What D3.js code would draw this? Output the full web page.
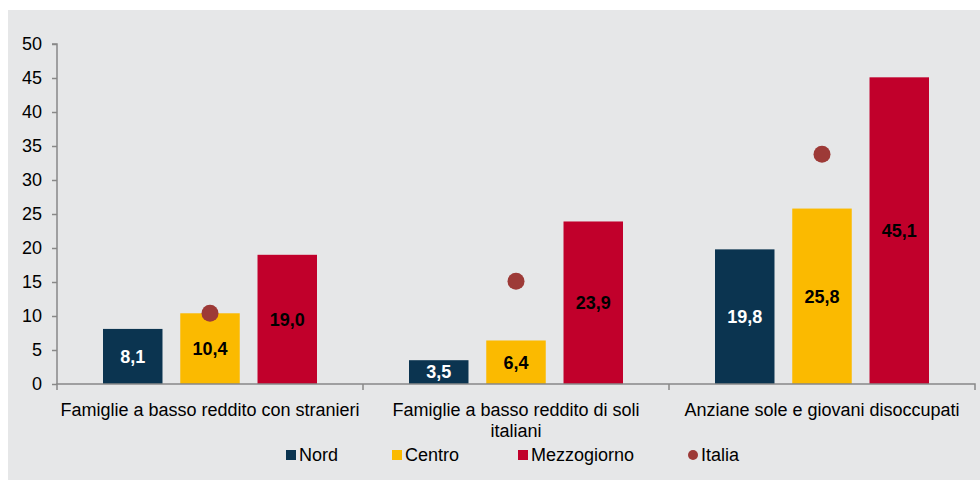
<!DOCTYPE html>
<html>
<head>
<meta charset="utf-8">
<style>
body { margin: 0; background: #fff; }
svg { display: block; font-family: "Liberation Sans", Arial, sans-serif; }
</style>
</head>
<body>
<div id="target"></div>
<script src="https://cdn.jsdelivr.net/npm/d3@7.8.5/dist/d3.min.js"></script>
<script>
// categories and series
const categories = [
    ["Famiglie a basso reddito con stranieri"],
    ["Famiglie a basso reddito di soli", "italiani"],
    ["Anziane sole e giovani disoccupati"]
];
const series = ["Nord", "Centro", "Mezzogiorno"];
const nord = [8.1, 3.5, 19.8];
const centro = [10.4, 6.4, 25.8];
const mezzogiorno = [19.0, 23.9, 45.1];
const italia = [10.4, 15.1, 33.8];
const yTicks = [0, 5, 10, 15, 20, 25, 30, 35, 40, 45, 50];

const colors = { Nord: "#0b3450", Centro: "#fbba00", Mezzogiorno: "#c1002b", Italia: "#9d3a37" };
const labelColors = { Nord: "#fff", Centro: "#000", Mezzogiorno: "#000" };

const width = 980, height = 480;
const margin = { left: 57, right: 5, top: 44, bottom: 96 };
const fs = 18;

const svg = d3.select("#target").append("svg")
    .attr("width", width)
    .attr("height", height);

svg.append("rect")
    .attr("x", 8).attr("y", 10)
    .attr("width", width - 8).attr("height", height - 10)
    .attr("fill", "#e6e7e8");

const idx = d3.range(categories.length);
const x = d3.scaleBand()
    .domain(idx)
    .range([margin.left, width - margin.right]);

const inner = d3.scaleBand()
    .domain(series)
    .range([46, x.bandwidth() - 46])
    .paddingInner(0.23);

const y = d3.scaleLinear()
    .domain([0, 50])
    .range([height - margin.bottom, margin.top]);

// y axis
const yAxis = svg.append("g")
    .attr("transform", `translate(${margin.left},0)`)
    .call(d3.axisLeft(y).tickValues(yTicks).tickSize(5).tickPadding(10).tickFormat(d3.format("d")));
yAxis.attr("font-size", null).attr("font-family", null);
yAxis.selectAll("text").attr("font-size", fs).attr("fill", "#000");
yAxis.selectAll("line, path").attr("stroke", "#888").attr("stroke-width", 1.5);
yAxis.select("path").attr("d", `M-5,${y(50)}H0V${y(0)}`);

const rows = series.map((s, si) => ({ name: s, values: [nord, centro, mezzogiorno][si] }));

const groups = svg.append("g").selectAll("g")
    .data(idx)
    .join("g")
    .attr("transform", i => `translate(${x(i)},0)`);

groups.selectAll("rect")
    .data(i => rows.map(r => ({ name: r.name, v: r.values[i] })))
    .join("rect")
    .attr("x", d => inner(d.name))
    .attr("width", inner.bandwidth())
    .attr("y", d => y(d.v))
    .attr("height", d => y(0) - y(d.v))
    .attr("fill", d => colors[d.name]);

groups.selectAll("text.val")
    .data(i => rows.map(r => ({ name: r.name, v: r.values[i] })))
    .join("text")
    .attr("class", "val")
    .attr("x", d => inner(d.name) + inner.bandwidth() / 2)
    .attr("y", d => (y(d.v) + y(0)) / 2)
    .attr("dy", "0.35em")
    .attr("text-anchor", "middle")
    .attr("font-size", fs)
    .attr("font-weight", "bold")
    .attr("fill", d => labelColors[d.name])
    .text(d => d3.format(".1f")(d.v).replace(".", ","));

// Italia dots
groups.append("circle")
    .attr("cx", inner("Centro") + inner.bandwidth() / 2)
    .attr("cy", i => y(italia[i]))
    .attr("r", 8.5)
    .attr("fill", colors.Italia);

// x axis
const xAxis = svg.append("g")
    .attr("transform", `translate(0,${y(0)})`)
    .call(d3.axisBottom(x).tickSize(0).tickFormat(""));
xAxis.select("path").attr("stroke", "#888").attr("stroke-width", 1.5)
    .attr("d", `M${margin.left},6V0H${width - margin.right}V6`);
xAxis.selectAll("line.sep")
    .data(d3.range(1, categories.length))
    .join("line")
    .attr("class", "sep")
    .attr("x1", i => x(i)).attr("x2", i => x(i))
    .attr("y1", 0).attr("y2", 6)
    .attr("stroke", "#888").attr("stroke-width", 1.5);

groups.append("text")
    .attr("x", x.bandwidth() / 2)
    .attr("y", y(0) + 32)
    .attr("text-anchor", "middle")
    .attr("font-size", fs)
    .attr("fill", "#000")
    .selectAll("tspan")
    .data(i => categories[i])
    .join("tspan")
    .attr("x", x.bandwidth() / 2)
    .attr("dy", (d, k) => k ? 21 : 0)
    .text(d => d);

// legend
const legendItems = [
    { name: "Nord", x: 286 },
    { name: "Centro", x: 392 },
    { name: "Mezzogiorno", x: 518 },
    { name: "Italia", x: 688 }
];
const legend = svg.append("g").selectAll("g")
    .data(legendItems)
    .join("g")
    .attr("transform", d => `translate(${d.x},455)`);
legend.filter(d => d.name !== "Italia").append("rect")
    .attr("x", 0).attr("y", -5)
    .attr("width", 10).attr("height", 10)
    .attr("fill", d => colors[d.name]);
legend.filter(d => d.name === "Italia").append("circle")
    .attr("cx", 5).attr("cy", 0).attr("r", 5)
    .attr("fill", colors.Italia);
legend.append("text")
    .attr("x", 13)
    .attr("dy", "0.35em")
    .attr("font-size", fs)
    .attr("fill", "#000")
    .text(d => d.name);
</script>
</body>
</html>
